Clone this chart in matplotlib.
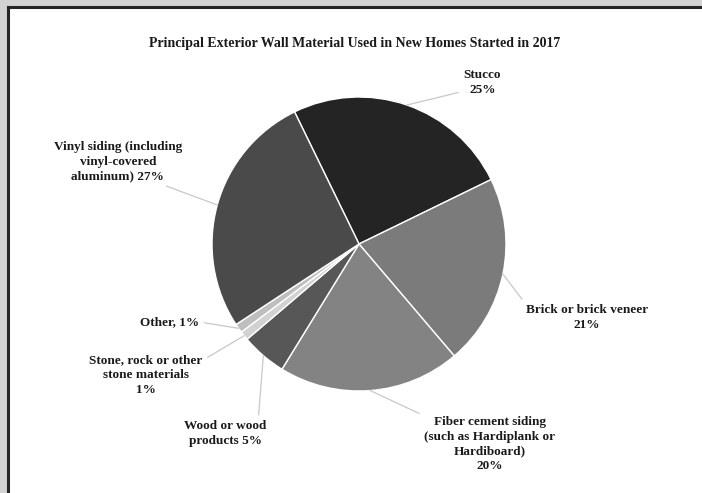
import numpy as np
import matplotlib
matplotlib.use("Agg")
import matplotlib.pyplot as plt
from matplotlib.patches import Rectangle

# ---------- DATA ----------
materials = ["Stucco", "Brick or brick veneer", "Fiber cement siding", "Wood or wood products",
             "Stone, rock or other stone materials", "Other", "Vinyl siding"]
shares = [25, 21, 20, 5, 1, 1, 27]
labels = ["Stucco\n25%",
          "Brick or brick veneer\n21%",
          "Fiber cement siding\n(such as Hardiplank or\nHardiboard)\n20%",
          "Wood or wood\nproducts 5%",
          "Stone, rock or other\nstone materials\n1%",
          "Other, 1%",
          "Vinyl siding (including\nvinyl-covered\naluminum) 27%"]
title = "Principal Exterior Wall Material Used in New Homes Started in 2017"

# ---------- STYLE ----------
colors = ["#242424", "#7b7b7b", "#838383", "#575757", "#d2d2d2", "#bebebe", "#4a4a4a"]
label_pos = [(0.84, 1.10), (1.55, -0.50), (0.89, -1.36), (-0.91, -1.29),
             (-1.45, -0.89), (-1.29, -0.53), (-1.64, 0.56)]
# where the leader line leaves the text box
rel_pos = [(0.1, 0.2), (0.0, 1.0), (0.0, 1.0), (0.9, 1.0),
           (1.0, 0.85), (1.0, 0.5), (0.8, 0.0)]
plt.rcParams['font.family'] = ['Liberation Serif', 'DejaVu Serif']

fig = plt.figure(figsize=(7.02, 4.93), dpi=100)
fig.patch.set_facecolor("#d3d3d3")
W, H = 702, 493

# white panel with dark frame (right and bottom edges run off the picture)
bg = fig.add_axes([0, 0, 1, 1], zorder=-5)
bg.set_xlim(0, W)
bg.set_ylim(H, 0)
bg.axis("off")
bg.add_patch(Rectangle((8, 7), W + 20, H + 20, facecolor="white",
                       edgecolor="#262626", linewidth=2.2))

ax = fig.add_axes([212 / W, 102 / H, 294 / W, 294 / H])
wedges, _ = ax.pie(shares, colors=colors, startangle=116, counterclock=False,
                   wedgeprops=dict(edgecolor="white", linewidth=1.0))
ax.set_xlim(-1, 1)
ax.set_ylim(-1, 1)
ax.set_aspect("equal")
ax.axis("off")

for w, lab, (tx, ty), rp in zip(wedges, labels, label_pos, rel_pos):
    mid = np.deg2rad((w.theta1 + w.theta2) / 2)
    xy = (np.cos(mid), np.sin(mid))
    ax.annotate(lab, xy=xy, xytext=(tx, ty), ha="center", va="center",
                fontsize=9.5, fontweight="bold", color="#1a1a1a", linespacing=1.3,
                annotation_clip=False,
                arrowprops=dict(arrowstyle="-", color="#c8c8c8", lw=0.9,
                                relpos=rp, shrinkA=2, shrinkB=0))

fig.text(355 / W, 1 - 44 / H, title, ha="center", va="center",
         fontsize=10, fontweight="bold", color="#1a1a1a")

fig.savefig("out.png", dpi=100, facecolor=fig.get_facecolor())
